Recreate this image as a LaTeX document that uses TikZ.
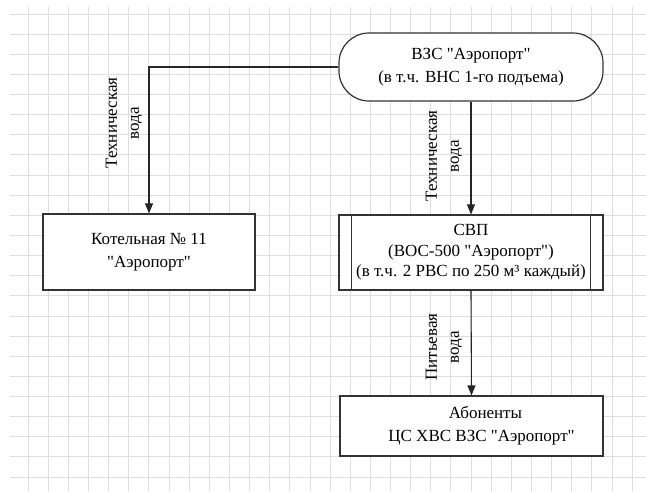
\documentclass[tikz,border=0pt]{standalone}
\usepackage{fontspec}
\setmainfont{Liberation Serif}[Ligatures=TeXOff]
\usetikzlibrary{arrows.meta}

\begin{document}
\begin{tikzpicture}[x=1pt,y=-1pt,
  gridline/.style={draw=black!13,line width=0.9pt},
  box/.style={draw=black!80,line width=1.2pt,fill=white,align=center,inner sep=0pt,font=\fontsize{17}{23}\selectfont},
  flow/.style={draw=black!85,line width=1.1pt,-{Triangle[width=8pt,length=10pt]}},
  lbl/.style={rotate=90,align=center,inner sep=0pt,font=\fontsize{17}{22}\selectfont}]
     \useasboundingbox (0,0) rectangle (646,491);

     % grid
     \foreach \i in {0,...,30}
       \draw[gridline] (28+20.14*\i,7) -- (28+20.14*\i,491);
     \foreach \j in {0,...,23}
       \draw[gridline] (10,14+20.13*\j) -- (646,14+20.13*\j);

     \node[box,rounded corners=30pt,minimum width=264pt,minimum height=68pt] (vzs) at (471,67)
       {ВЗС "Аэропорт"\\(в т.ч. ВНС 1-го подъема)};
     \node[box,minimum width=212pt,minimum height=76pt] (kot) at (149,252)
       {Котельная № 11\\"Аэропорт"};
     \node[box,minimum width=264pt,minimum height=75pt,font=\fontsize{17}{20.5}\selectfont] (svp) at (471,252.5)
       {СВП\\(ВОС-500 "Аэропорт")\\(в т.ч. 2 РВС по 250 м³ каждый)};
     \draw[draw=black!80,line width=1.2pt] ([xshift=13pt]svp.north west) -- ([xshift=13pt]svp.south west);
     \draw[draw=black!80,line width=1.2pt] ([xshift=-13pt]svp.north east) -- ([xshift=-13pt]svp.south east);
     \node[box,minimum width=263pt,minimum height=60pt] (abon) at (471.5,426)
       {\hspace*{28pt}Абоненты\\\hspace*{20pt}ЦС ХВС ВЗС "Аэропорт"};

     \draw[flow] (vzs.west) -| (kot.north);
     \draw[flow] (vzs.south) -- (svp.north);
     \draw[flow] (svp.south) -- (abon.north);

     \node[lbl] (tv1) at (124,123) {Техническая\\вода};
     \node[lbl] (tv2) at (444,156) {Техническая\\вода};
     \node[lbl] (pv) at (444,347) {Питьевая\\вода};
\end{tikzpicture}
\end{document}
